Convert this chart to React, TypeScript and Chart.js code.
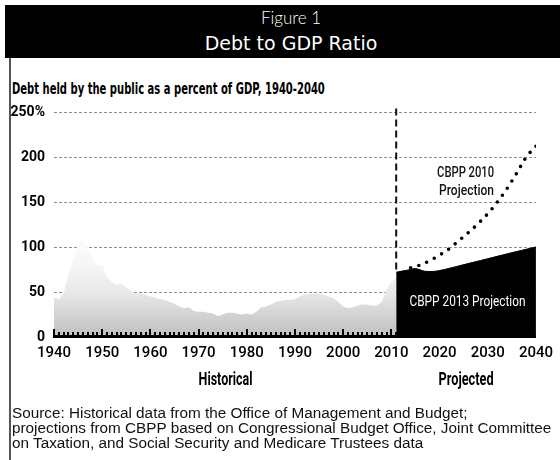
import React, { useEffect, useRef } from "react";
import { Chart, registerables } from "chart.js";

Chart.register(...registerables);

// ---- Data ----
const HIST_YEARS = [
  1940, 1941, 1942, 1943, 1944, 1945, 1946, 1947, 1948, 1949,
  1950, 1951, 1952, 1953, 1954, 1955, 1956, 1957, 1958, 1959,
  1960, 1961, 1962, 1963, 1964, 1965, 1966, 1967, 1968, 1969,
  1970, 1971, 1972, 1973, 1974, 1975, 1976, 1977, 1978, 1979,
  1980, 1981, 1982, 1983, 1984, 1985, 1986, 1987, 1988, 1989,
  1990, 1991, 1992, 1993, 1994, 1995, 1996, 1997, 1998, 1999,
  2000, 2001, 2002, 2003, 2004, 2005, 2006, 2007, 2008, 2009,
  2010, 2011,
];
const HIST_VALUES = [
  44, 42, 48, 70, 86, 104, 109, 97, 87, 79,
  80, 67, 61, 58, 59, 55, 51, 48, 49, 47,
  45, 44, 42, 41, 39, 37, 34, 32, 33, 29,
  28, 28, 27, 26, 23, 25, 27, 27, 26, 25,
  26, 25, 28, 33, 34, 36, 39, 40, 41, 41,
  42, 45, 47, 48, 48, 48, 47, 45, 43, 39,
  34, 32, 33, 35, 36, 36, 35, 35, 39, 53,
  61, 66,
];

const PROJ2013_YEARS = [2011, 2012, 2014, 2015, 2017, 2019, 2021, 2024, 2027, 2030, 2033, 2036, 2040];
const PROJ2013_VALUES = [72, 73, 75, 76, 73, 73, 75, 79, 83, 87, 91, 95, 100];

const PROJ2010_YEARS = [2014, 2016, 2018, 2020, 2022, 2024, 2026, 2028, 2030, 2032, 2034, 2036, 2038, 2040];
const PROJ2010_VALUES = [77, 80, 85, 91, 98, 107, 116, 126, 137, 150, 165, 182, 200, 212];

const X_TICKS = [1940, 1950, 1960, 1970, 1980, 1990, 2000, 2010, 2020, 2030, 2040];
const Y_TICKS = [0, 50, 100, 150, 200, 250];
const SPLIT_YEAR = 2011;

const TICK_FONT = "Roboto, 'Liberation Sans', sans-serif";
const ANNOT_FONT = "Roboto, 'Liberation Sans', sans-serif";

// draw text squeezed horizontally to a target width (condensed look)
function drawNarrow(ctx: any, text: string, cx: number, cy: number, width: number) {
  const w = ctx.measureText(text).width;
  const s = Math.min(1, width / w);
  ctx.save();
  ctx.translate(cx, cy);
  ctx.scale(s, 1);
  ctx.fillText(text, 0, 0);
  ctx.restore();
}

const overlayPlugin = {
  id: "overlay",
  afterDatasetsDraw(chart: any) {
    const { ctx, chartArea, scales } = chart;
    const x = scales.x;
    const y = scales.y;
    const y0 = y.getPixelForValue(0);
    ctx.save();

    // vertical dashed divider
    const xs = x.getPixelForValue(SPLIT_YEAR);
    ctx.strokeStyle = "#111";
    ctx.lineWidth = 2;
    ctx.setLineDash([7, 4]);
    ctx.beginPath();
    ctx.moveTo(xs, y.getPixelForValue(254));
    ctx.lineTo(xs, y.getPixelForValue(PROJ2013_VALUES[0]));
    ctx.stroke();
    ctx.setLineDash([]);

    // thick baseline with year ticks
    ctx.fillStyle = "#000";
    ctx.fillRect(chartArea.left - 1, y0 - 2, chartArea.right - chartArea.left + 1, 3);
    for (let yr = X_TICKS[0]; yr <= SPLIT_YEAR; yr++) {
      const px = x.getPixelForValue(yr);
      const h = yr % 10 === 0 ? 8 : 5;
      ctx.fillRect(Math.round(px) - 1, y0 - h, 2, h);
    }

    // annotations
    ctx.textAlign = "center";
    ctx.textBaseline = "middle";
    ctx.font = `500 15px ${ANNOT_FONT}`;
    ctx.fillStyle = "#111";
    drawNarrow(ctx, "CBPP 2010", x.getPixelForValue(2025.4), y.getPixelForValue(182), 57);
    drawNarrow(ctx, "Projection", x.getPixelForValue(2025.6), y.getPixelForValue(162), 55);

    ctx.fillStyle = "#fff";
    ctx.font = `400 15px ${ANNOT_FONT}`;
    drawNarrow(ctx, "CBPP 2013 Projection", x.getPixelForValue(2025.8), y.getPixelForValue(39), 116);

    ctx.fillStyle = "#000";
    ctx.font = `bold 18px ${ANNOT_FONT}`;
    drawNarrow(ctx, "Historical", x.getPixelForValue(1975.6), y0 + 43, 54);
    drawNarrow(ctx, "Projected", x.getPixelForValue(2025.5), y0 + 43, 55);
    ctx.restore();
  },
};

export default function App() {
  const ref = useRef<HTMLCanvasElement | null>(null);

  useEffect(() => {
    document.body.style.margin = "0";
    const canvas = ref.current;
    if (!canvas) return;

    const histFill = (c: any) => {
      const chart = c.chart;
      const area = chart.chartArea;
      if (!area) return "#d8d8d8";
      const yS = chart.scales.y;
      const g = chart.ctx.createLinearGradient(0, yS.getPixelForValue(0), 0, yS.getPixelForValue(100));
      g.addColorStop(0, "#bfbfbf");
      g.addColorStop(0.25, "#d3d3d3");
      g.addColorStop(0.5, "#e9e9e9");
      g.addColorStop(0.75, "#f4f4f4");
      g.addColorStop(1, "#fbfbfb");
      return g;
    };

    const chart = new Chart(canvas, {
      type: "line",
      data: {
        datasets: [
          {
            label: "Historical",
            data: HIST_YEARS.map((yr, i) => ({ x: yr, y: HIST_VALUES[i] })),
            fill: "origin",
            backgroundColor: histFill,
            borderWidth: 0,
            borderColor: "rgba(0,0,0,0)",
            pointRadius: 0,
            order: 3,
          },
          {
            label: "CBPP 2013 Projection",
            data: PROJ2013_YEARS.map((yr, i) => ({ x: yr, y: PROJ2013_VALUES[i] })),
            fill: "origin",
            backgroundColor: "#000",
            borderColor: "#000",
            borderWidth: 1,
            pointRadius: 0,
            tension: 0.3,
            order: 2,
          },
          {
            label: "CBPP 2010 Projection",
            data: PROJ2010_YEARS.map((yr, i) => ({ x: yr, y: PROJ2010_VALUES[i] })),
            fill: false,
            borderColor: "#000",
            borderWidth: 3.6,
            borderDash: [0, 8.5],
            borderCapStyle: "round",
            pointRadius: 0,
            tension: 0.35,
            order: 1,
          },
        ],
      },
      options: {
        animation: false,
        responsive: false,
        events: [],
        layout: { padding: { left: 0, right: 15, top: 112, bottom: 0 } },
        plugins: {
          legend: { display: false },
          tooltip: { enabled: false },
          title: { display: false },
        },
        scales: {
          x: {
            type: "linear",
            min: 1940,
            max: 2040,
            afterBuildTicks: (s: any) => {
              s.ticks = X_TICKS.map((v) => ({ value: v }));
            },
            ticks: {
              padding: 7,
              color: "#000",
              font: { family: TICK_FONT, size: 15, weight: "500" },
              maxRotation: 0,
              autoSkip: false,
              callback: (v: any) => String(v),
            },
            grid: { display: false, drawTicks: false },
            border: { display: false },
            afterFit: (s: any) => {
              s.height = 123;
            },
          },
          y: {
            min: 0,
            max: 250,
            afterBuildTicks: (s: any) => {
              s.ticks = Y_TICKS.map((v) => ({ value: v }));
            },
            ticks: {
              padding: 9,
              color: "#000",
              font: { family: TICK_FONT, size: 14, weight: "bold" },
              callback: (v: any) => (v === 250 ? "250%" : String(v)),
            },
            grid: {
              drawTicks: false,
              color: (c: any) => (c.tick && c.tick.value === 0 ? "rgba(0,0,0,0)" : "#8f8f8f"),
              lineWidth: 1,
            },
            border: { display: false, dash: [3, 2] },
            afterFit: (s: any) => {
              s.width = 54;
            },
          },
        },
      },
      plugins: [overlayPlugin],
    });

    return () => chart.destroy();
  }, []);

  return (
    <div
      style={{
        position: "absolute",
        left: 0,
        top: 0,
        width: 560,
        height: 460,
        background: "#fff",
        overflow: "hidden",
      }}
    >
      <div style={{ position: "absolute", left: 5, top: 5, width: 555, height: 53, background: "#000" }} />
      <div style={{ position: "absolute", left: 9, top: 58, width: 2, height: 402, background: "#555" }} />
      <div
        style={{
          position: "absolute",
          left: 0,
          width: 582,
          top: 7,
          textAlign: "center",
          color: "#fff",
          fontFamily: "Lato, 'Open Sans', sans-serif",
          fontWeight: 300,
          fontSize: 17,
          lineHeight: "22px",
        }}
      >
        Figure 1
      </div>
      <div
        style={{
          position: "absolute",
          left: 0,
          width: 582,
          top: 31,
          textAlign: "center",
          color: "#fff",
          fontFamily: "'DejaVu Sans', sans-serif",
          fontSize: 19,
          lineHeight: "24px",
        }}
      >
        Debt to GDP Ratio
      </div>
      <div
        style={{
          position: "absolute",
          left: 12,
          top: 79,
          color: "#000",
          fontFamily: "'DejaVu Sans', sans-serif",
          fontWeight: "bold",
          fontSize: 15,
          lineHeight: "20px",
          whiteSpace: "nowrap",
          transform: "scaleX(0.667)",
          transformOrigin: "0 0",
        }}
      >
        Debt held by the public as a percent of GDP, 1940-2040
      </div>
      <canvas ref={ref} width={560} height={460} style={{ position: "absolute", left: 0, top: 0 }} />
      <div
        style={{
          position: "absolute",
          left: 12,
          top: 405,
          color: "#111",
          fontFamily: "'Liberation Sans', Arial, sans-serif",
          fontSize: 15.3,
          lineHeight: "15px",
          whiteSpace: "nowrap",
        }}
      >
        Source: Historical data from the Office of Management and Budget;
        <br />
        projections from CBPP based on Congressional Budget Office, Joint Committee
        <br />
        on Taxation, and Social Security and Medicare Trustees data
      </div>
    </div>
  );
}
